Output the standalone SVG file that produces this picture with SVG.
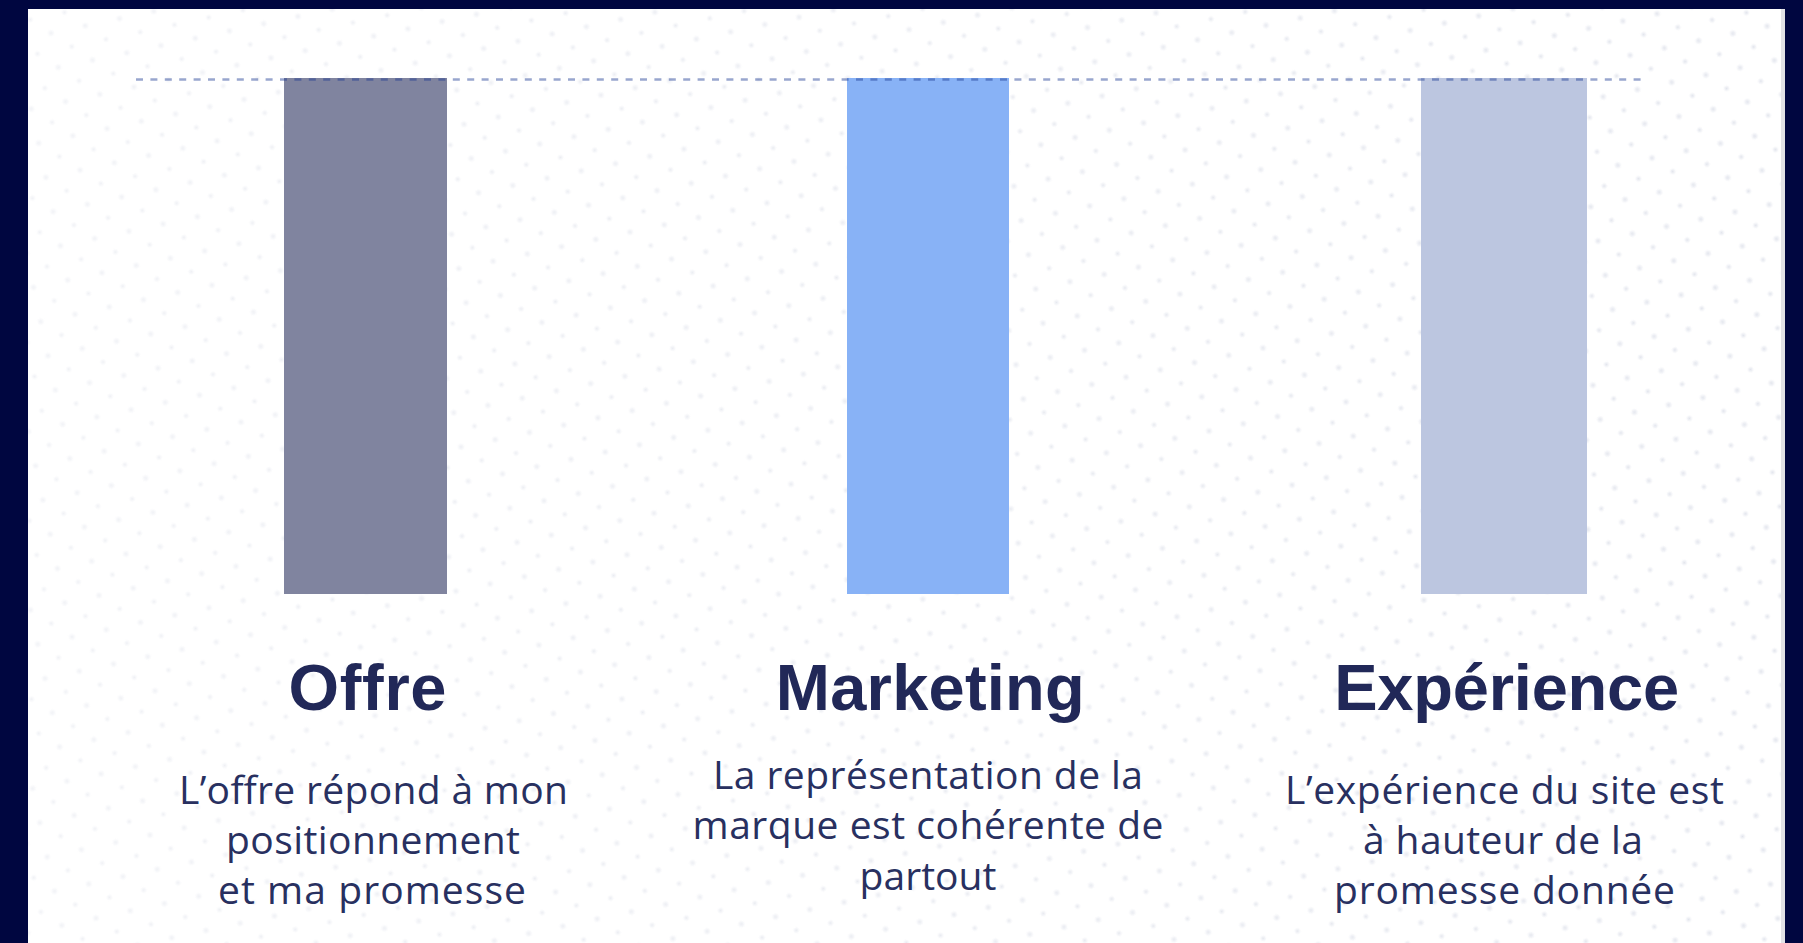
<svg xmlns="http://www.w3.org/2000/svg" width="1803" height="943" viewBox="0 0 1803 943">
  <style>
    .title { font-family: "Liberation Sans", Arial, sans-serif; font-weight: 700; font-size: 65px; fill: #212858; text-anchor: middle; }
    .body { font-family: "Open Sans", "Liberation Sans", sans-serif; font-weight: 400; font-size: 39px; fill: #283060; text-anchor: middle; }
    .guide { fill: none; stroke: #1A3992; stroke-opacity: 0.45; stroke-width: 2.6; stroke-dasharray: 7 7.4; }
  </style>
  <defs>
    <radialGradient id="dotFill">
      <stop offset="0" stop-color="#dfe2eb" stop-opacity="0.9"/>
      <stop offset="1" stop-color="#dfe2eb" stop-opacity="0"/>
    </radialGradient>
    <pattern id="dots" width="35" height="35" patternUnits="userSpaceOnUse" patternTransform="rotate(-12)">
      <circle cx="8" cy="8" r="4" fill="url(#dotFill)"/>
      <circle cx="25.5" cy="25.5" r="3.5" fill="url(#dotFill)"/>
    </pattern>
    <linearGradient id="dotFade" x1="0" y1="0" x2="1" y2="0">
      <stop offset="0" stop-color="#fff" stop-opacity="0.5"/>
      <stop offset="1" stop-color="#fff" stop-opacity="1"/>
    </linearGradient>
    <mask id="dotMask">
      <rect x="0" y="0" width="1803" height="943" fill="url(#dotFade)"/>
    </mask>
  </defs>

  <!-- frame and panel -->
  <rect x="0" y="0" width="1803" height="943" fill="#000640"/>
  <rect x="28" y="9" width="1757" height="934" fill="#e2e2e6"/>
  <rect x="28" y="9" width="1753" height="934" fill="#ffffff"/>
  <rect x="28" y="9" width="1753" height="934" fill="url(#dots)" mask="url(#dotMask)"/>

  <!-- columns -->
  <g id="offre">
    <rect x="284" y="78" width="163" height="516" fill="#80849f"/>
    <text class="title" x="367.5" y="710" textLength="158">Offre</text>
    <text class="body" x="373.5" y="803.5" textLength="389">L’offre répond à mon</text>
    <text class="body" x="373" y="853.5" textLength="294">positionnement</text>
    <text class="body" x="372" y="904" textLength="308">et ma promesse</text>
  </g>

  <g id="marketing">
    <rect x="847" y="78" width="162" height="516" fill="#88b2f6"/>
    <text class="title" x="930.3" y="710" textLength="309">Marketing</text>
    <text class="body" x="928" y="788.5" textLength="430">La représentation de la</text>
    <text class="body" x="928" y="839" textLength="471">marque est cohérente de</text>
    <text class="body" x="928" y="889.5" textLength="137">partout</text>
  </g>

  <g id="experience">
    <rect x="1421" y="78" width="166" height="516" fill="#bcc6e0"/>
    <text class="title" x="1506.7" y="710" textLength="345">Expérience</text>
    <text class="body" x="1504.5" y="803.5" textLength="439">L’expérience du site est</text>
    <text class="body" x="1503" y="853.5" textLength="280">à hauteur de la</text>
    <text class="body" x="1504.5" y="904" textLength="341">promesse donnée</text>
  </g>

  <!-- guide line across the bar tops -->
  <g id="connectors">
    <line class="guide" x1="136" y1="79.5" x2="1644" y2="79.5"/>
  </g>
</svg>
